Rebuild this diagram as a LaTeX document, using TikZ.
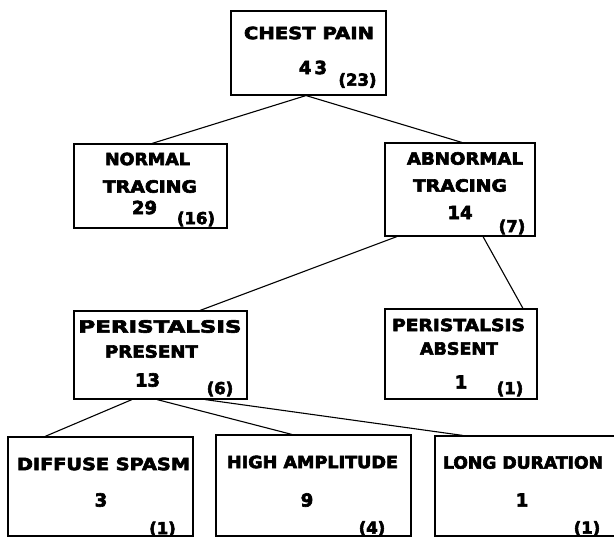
\documentclass[tikz,border=0pt]{standalone}
\usepackage{fontspec}
\setmainfont{DejaVu Sans}
\newfontfamily\heavy{DejaVu Sans Bold}[FakeBold=3.5]
\usetikzlibrary{calc}
\newcommand{\fitw}[2]{\resizebox{#1pt}{12.5pt}{\heavy #2}}
\tikzset{
  box/.style={draw, line width=1.1pt, rectangle, inner sep=0pt},
  conn/.style={draw, line width=1.1pt},
  lbl/.style={inner sep=0pt, anchor=center},
  num/.style={inner sep=0pt, anchor=center, font=\fontsize{18}{18}\heavy},
  sub/.style={inner sep=0pt, anchor=center, font=\fontsize{16.5}{16.5}\heavy}
}
\begin{document}
\begin{tikzpicture}[x=1pt,y=-1pt]
\useasboundingbox (0,0) rectangle (614,542);
\clip (0,0) rectangle (614,542);
% boxes
\node[box, minimum width=155pt, minimum height=84pt] (b0) at (308.5,53) {};
\node[box, minimum width=153pt, minimum height=84pt] (b1) at (150.5,186) {};
\node[box, minimum width=150pt, minimum height=93pt] (b2) at (460,189.5) {};
\node[box, minimum width=173pt, minimum height=88pt] (b3) at (160.5,355) {};
\node[box, minimum width=152pt, minimum height=90pt] (b4) at (461,354) {};
\node[box, minimum width=185pt, minimum height=99pt] (b5) at (100.5,486.5) {};
\node[box, minimum width=195pt, minimum height=101pt] (b6) at (313.5,485.5) {};
\node[box, minimum width=185pt, minimum height=100pt] (b7) at (527.5,486) {};
% texts
\node[lbl] (t0a) at (309,33) {\fitw{130}{CHEST PAIN}};
\node[num] (t0b) at (313,67.5) {4\kern3pt3};
\node[sub] (t0c) at (357.5,80.5) {(23)};
\node[lbl] (t1a) at (147.5,159) {\fitw{85}{NORMAL}};
\node[lbl] (t1b) at (150,186.5) {\fitw{94}{TRACING}};
\node[num] (t1c) at (144.5,207.5) {29};
\node[sub] (t1d) at (196,219) {(16)};
\node[lbl] (t2a) at (465,158.5) {\fitw{116}{ABNORMAL}};
\node[lbl] (t2b) at (460,185.5) {\fitw{94}{TRACING}};
\node[num] (t2c) at (460,212.5) {14};
\node[sub] (t2d) at (512,227) {(7)};
\node[lbl] (t3a) at (160,326.5) {\fitw{163}{PERISTALSIS}};
\node[lbl] (t3b) at (151.5,351.5) {\fitw{93}{PRESENT}};
\node[num] (t3c) at (147.5,380) {13};
\node[sub] (t3d) at (220,389) {(6)};
\node[lbl] (t4a) at (458.5,325) {\fitw{133}{PERISTALSIS}};
\node[lbl] (t4b) at (459,348.5) {\fitw{78}{ABSENT}};
\node[num] (t4c) at (461,382) {1};
\node[sub] (t4d) at (510,389) {(1)};
\node[lbl] (t5a) at (103.5,464) {\fitw{173}{DIFFUSE SPASM}};
\node[num] (t5b) at (101,500) {3};
\node[sub] (t5c) at (162.5,529) {(1)};
\node[lbl] (t6a) at (312.5,462) {\fitw{171}{HIGH AMPLITUDE}};
\node[num] (t6b) at (307,500) {9};
\node[sub] (t6c) at (372,528.5) {(4)};
\node[lbl] (t7a) at (523,462.5) {\fitw{160}{LONG DURATION}};
\node[num] (t7b) at (522,500) {1};
\node[sub] (t7c) at (587,528.5) {(1)};
% connectors
\draw[conn] ([xshift=-2.5pt]b0.south) -- ([xshift=1.5pt]b1.north);
\draw[conn] ([xshift=-2.5pt]b0.south) -- ([xshift=2pt]b2.north);
\draw[conn] ([xshift=-63pt]b2.south) -- ([xshift=39.5pt]b3.north);
\draw[conn] ([xshift=23pt]b2.south) -- ([xshift=62pt]b4.north);
\draw[conn] ([xshift=-28.5pt]b3.south) -- ([xshift=-55.5pt]b5.north);
\draw[conn] ([xshift=-3.5pt]b3.south) -- ([xshift=-21.5pt]b6.north);
\draw[conn] ([xshift=44.5pt]b3.south) -- ([xshift=-64.5pt]b7.north);
\end{tikzpicture}
\end{document}
